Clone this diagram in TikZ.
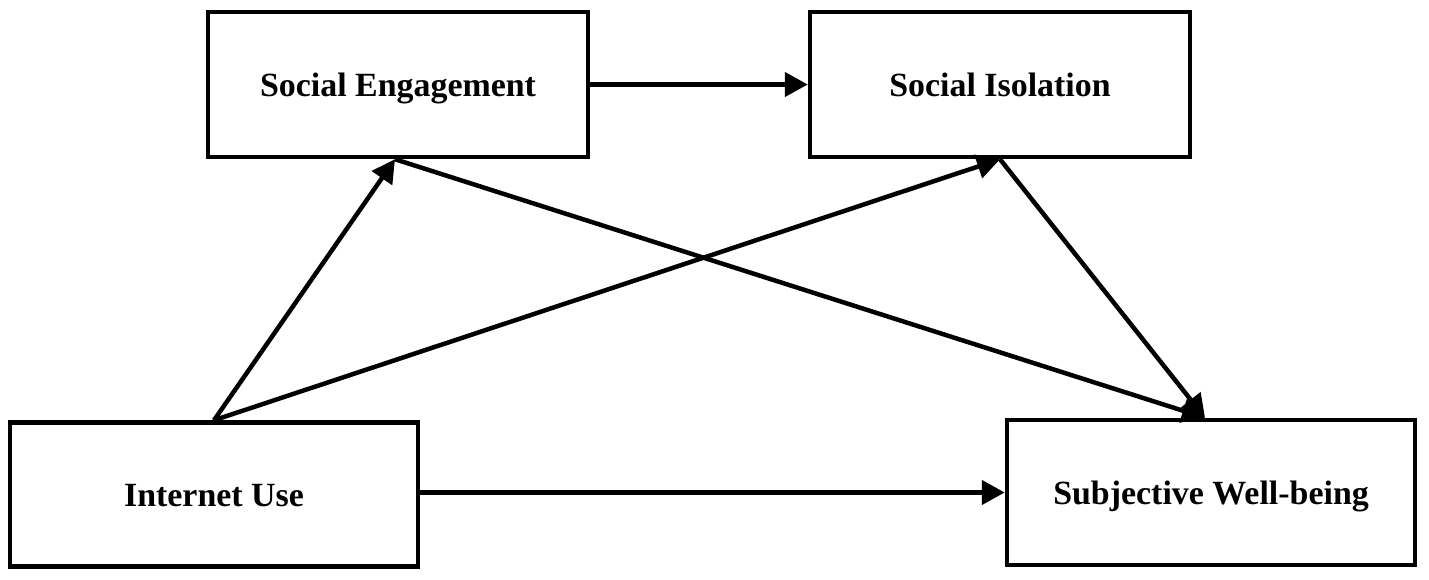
\documentclass[tikz,border=0pt]{standalone}
\usepackage{fontspec}
\setmainfont{Liberation Serif}
\usetikzlibrary{arrows.meta,calc}
\begin{document}
\begin{tikzpicture}[x=0.02cm,y=-0.02cm,
  box/.style={draw=black, line width=0.09cm, fill=white, inner sep=0pt,
    text height=13.5pt, text depth=0pt,
    font=\fontsize{19.3}{23}\selectfont\bfseries},
  conn/.style={line width=0.09cm, -{Triangle[length=0.46cm,width=0.48cm]}},
]
\useasboundingbox (0,0) rectangle (1429,580);
\node[box, minimum width=0.02cm*380, minimum height=0.02cm*145] (SE) at (398,84.5) {Social Engagement};
\node[box, minimum width=0.02cm*380, minimum height=0.02cm*145] (SI) at (1000,84.5) {Social Isolation};
\node[box, minimum width=0.02cm*408, minimum height=0.02cm*144] (IU) at (214,494.5) {Internet Use};
\node[box, minimum width=0.02cm*408, minimum height=0.02cm*145] (SWB) at (1211,492.5) {Subjective Well-being};
\draw[conn] (SE.east) -- (SI.west);
\draw[conn] (IU.east |- SWB.west) -- (SWB.west);
\draw[conn] (IU.north) -- ([xshift=-0.06cm]SE.south);
\draw[conn] (IU.north) -- (SI.south);
\draw[conn] ([xshift=-0.06cm]SE.south) -- ([xshift=-0.12cm]SWB.north);
\draw[conn] (SI.south) -- ([xshift=-0.12cm]SWB.north);
\end{tikzpicture}
\end{document}
